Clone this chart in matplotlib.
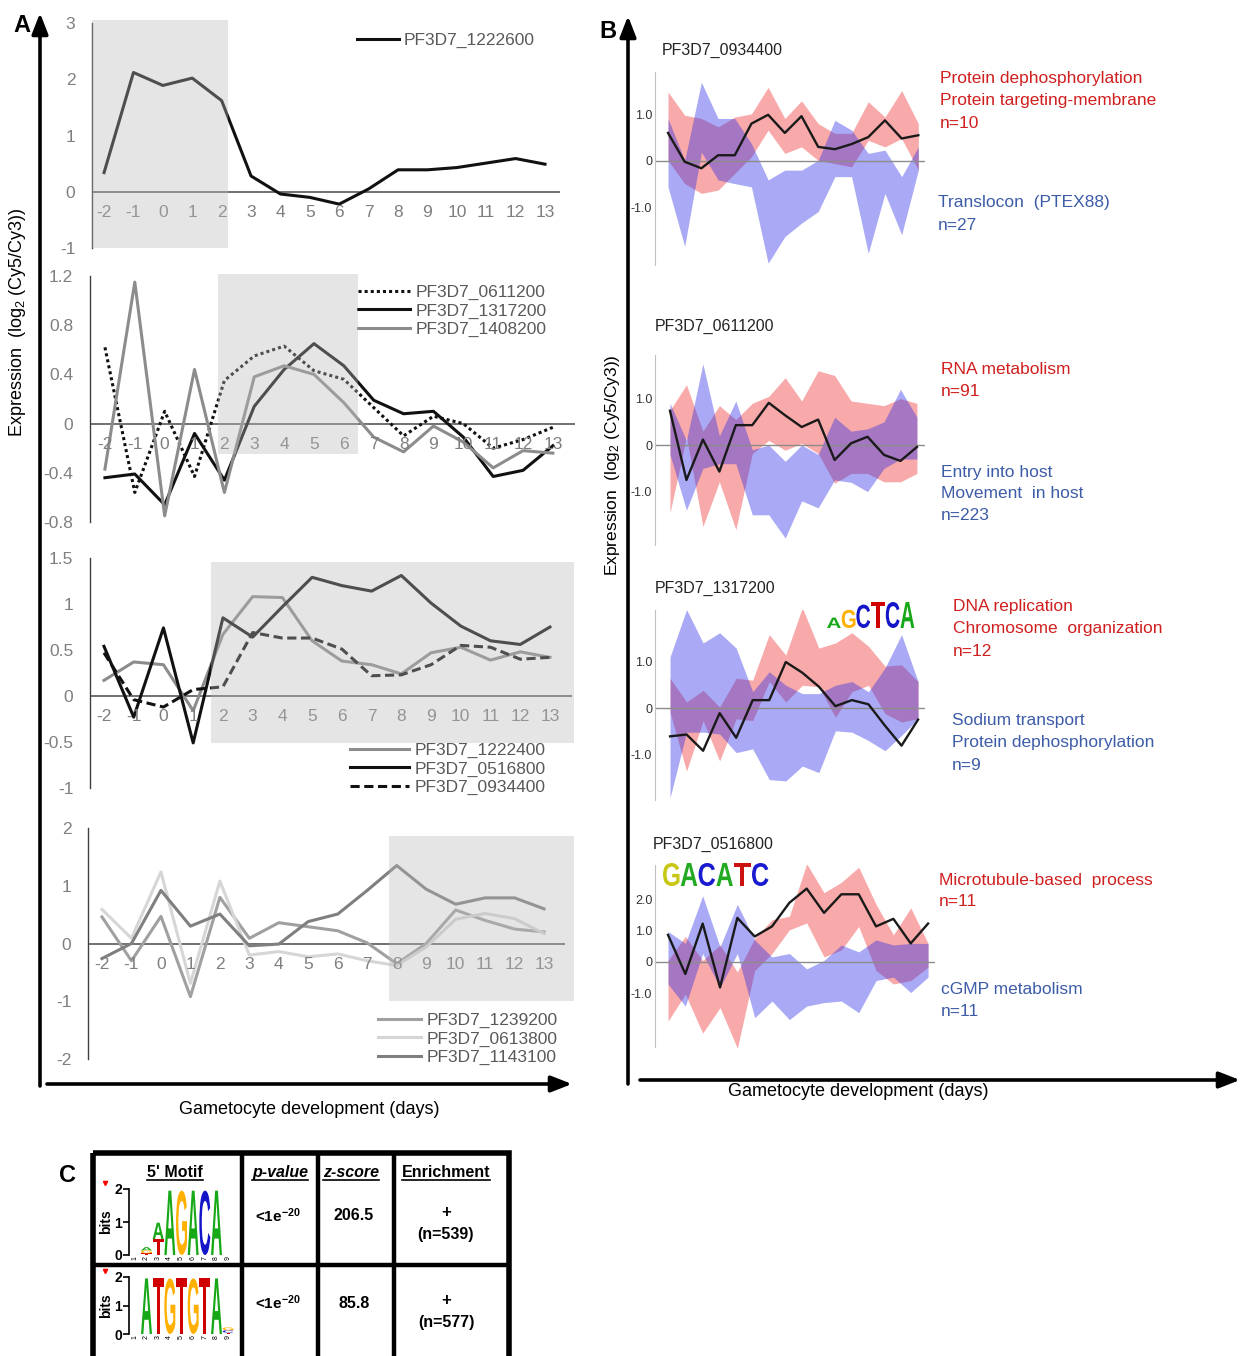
import numpy as np
import matplotlib
matplotlib.use('Agg')
import matplotlib.pyplot as plt
from matplotlib.patches import Rectangle, PathPatch
from matplotlib.textpath import TextPath
from matplotlib.font_manager import FontProperties
import matplotlib.transforms as mtransforms

plt.rcParams['font.family'] = ['Liberation Sans', 'DejaVu Sans']
plt.rcParams['mathtext.fontset'] = 'custom'
plt.rcParams['mathtext.rm'] = 'Liberation Sans'
plt.rcParams['mathtext.bf'] = 'Liberation Sans:bold'
plt.rcParams['mathtext.default'] = 'regular'

W, H = 1240, 1356

# ---- data ----
days = list(range(-2, 14))
day_labels = [str(d) for d in days]

# panel A
a1_1222600 = [0.34, 2.12, 1.89, 2.02, 1.62, 0.28, -0.04, -0.10, -0.22, 0.05, 0.39, 0.39, 0.43, 0.51, 0.59, 0.49]

a2_0611200 = [0.62, -0.56, 0.10, -0.43, 0.35, 0.55, 0.63, 0.43, 0.36, 0.13, -0.10, 0.06, 0.0, -0.20, -0.13, -0.03]
a2_1317200 = [-0.44, -0.41, -0.66, -0.08, -0.46, 0.14, 0.44, 0.65, 0.47, 0.19, 0.08, 0.10, -0.11, -0.43, -0.38, -0.18]
a2_1408200 = [-0.37, 1.15, -0.75, 0.44, -0.56, 0.38, 0.47, 0.40, 0.17, -0.11, -0.23, -0.02, -0.15, -0.36, -0.22, -0.24]

a3_1222400 = [0.17, 0.37, 0.34, -0.16, 0.67, 1.08, 1.07, 0.60, 0.38, 0.34, 0.24, 0.47, 0.53, 0.39, 0.48, 0.42]
a3_0516800 = [0.54, -0.23, 0.74, -0.51, 0.85, 0.64, 0.97, 1.29, 1.20, 1.14, 1.31, 1.01, 0.76, 0.60, 0.56, 0.75]
a3_0934400 = [0.47, -0.04, -0.12, 0.07, 0.10, 0.69, 0.63, 0.63, 0.51, 0.22, 0.23, 0.34, 0.55, 0.53, 0.40, 0.42]

a4_1239200 = [0.46, -0.30, 0.47, -0.92, 0.80, 0.09, 0.36, 0.29, 0.22, 0.01, -0.35, 0.0, 0.58, 0.40, 0.25, 0.20]
a4_0613800 = [0.59, 0.09, 1.24, -0.69, 1.08, -0.20, -0.14, -0.23, -0.18, -0.30, -0.38, -0.06, 0.42, 0.52, 0.43, 0.17]
a4_1143100 = [-0.26, 0.0, 0.92, 0.30, 0.51, -0.04, -0.01, 0.38, 0.51, 0.92, 1.35, 0.94, 0.68, 0.79, 0.79, 0.60]

# panel B (mean profile, red cluster band, blue cluster band)
b1_mean = [0.60, -0.02, -0.16, 0.12, 0.12, 0.80, 0.99, 0.60, 0.96, 0.30, 0.25, 0.36, 0.51, 0.87, 0.48, 0.55]
b1_red_hi = [1.48, 0.98, 0.91, 0.73, 0.94, 1.01, 1.58, 0.91, 1.29, 0.80, 0.59, 0.59, 1.27, 0.94, 1.51, 0.80]
b1_red_lo = [0.01, -0.49, -0.70, -0.63, -0.27, 0.09, 0.66, 0.16, 0.30, 0.01, -0.06, -0.13, 0.44, 0.30, 0.48, -0.20]
b1_blue_hi = [0.91, 0.01, 1.69, 0.91, 0.91, 0.37, -0.41, -0.20, -0.20, 0.01, 0.87, 0.66, 0.16, 0.23, -0.34, 0.30]
b1_blue_lo = [-0.56, -1.84, 0.19, -0.41, -0.49, -0.56, -2.20, -1.63, -1.34, -1.09, -0.34, -0.34, -1.99, -0.70, -1.59, -0.20]

b2_mean = [0.74, -0.75, 0.12, -0.57, 0.43, 0.43, 0.91, 0.64, 0.39, 0.55, -0.32, 0.04, 0.18, -0.21, -0.34, -0.04]
b2_red_hi = [0.75, 1.30, 0.30, 0.85, 0.55, 0.90, 1.05, 1.45, 0.95, 1.60, 1.50, 0.95, 0.90, 0.85, 1.00, 0.90]
b2_red_lo = [-1.46, 0.18, -1.75, -0.79, -1.82, -0.18, 0.10, -0.11, 0.04, -0.18, -0.82, -0.61, -0.61, -0.79, -0.79, -0.61]
b2_blue_hi = [0.90, 0.10, 1.75, 0.20, 0.95, -0.10, 0.00, -0.35, 0.00, -0.20, 0.60, 0.30, 0.35, 0.50, 1.20, 0.60]
b2_blue_lo = [-0.20, -1.40, -0.50, -0.40, -0.40, -1.50, -1.50, -2.00, -1.20, -1.35, -0.75, -0.80, -1.00, -0.50, -0.30, -0.30]

b3_mean = [-0.61, -0.57, -0.92, -0.11, -0.64, 0.17, 0.17, 0.99, 0.76, 0.46, 0.04, 0.17, 0.08, -0.38, -0.81, -0.25]
b3_red_hi = [0.64, 0.13, 0.38, 0.02, 0.64, 0.60, 1.58, 1.14, 2.16, 1.29, 1.40, 1.62, 1.33, 0.90, 0.93, 0.57]
b3_red_lo = [-0.09, -1.36, -0.27, -1.14, -0.23, -0.27, 0.57, 0.13, 0.49, 0.46, -0.20, 0.35, 0.49, -0.12, -0.30, -0.23]
b3_blue_hi = [1.10, 2.12, 1.40, 1.62, 1.29, 0.35, 0.78, 0.49, 0.31, 0.31, 0.49, 0.57, 0.35, 0.86, 1.58, 0.57]
b3_blue_lo = [-1.93, -0.52, -0.52, -0.56, -0.96, -0.88, -1.54, -1.57, -1.25, -1.39, -0.49, -0.52, -0.70, -0.92, -0.59, -0.23]

b4_mean = [0.86, -0.38, 1.22, -0.81, 1.40, 0.81, 1.13, 1.88, 2.33, 1.56, 2.15, 2.15, 1.13, 1.37, 0.59, 1.22]
b4_red_hi = [0.05, 0.81, 0.05, 0.54, -0.32, 0.75, 1.34, 1.45, 3.12, 2.20, 2.53, 3.01, 1.83, 0.86, 1.72, 0.59]
b4_red_lo = [-1.88, -1.02, -2.26, -1.45, -2.74, -0.27, 0.27, 1.02, 1.24, 0.16, 0.38, 1.13, -0.27, -0.70, -0.59, -0.16]
b4_blue_hi = [0.97, 0.59, 2.10, 0.48, 1.83, 0.70, 0.16, 0.27, -0.22, 0.05, 0.54, 0.32, 0.70, 0.54, 0.59, 0.59]
b4_blue_lo = [-0.70, -1.40, 0.27, -0.81, 0.27, -1.77, -1.24, -1.83, -1.40, -1.29, -1.24, -1.61, -0.59, -0.48, -0.97, -0.48]

b_titles = ['PF3D7_0934400', 'PF3D7_0611200', 'PF3D7_1317200', 'PF3D7_0516800']
b_red_text = [['Protein dephosphorylation', 'Protein targeting-membrane', 'n=10'],
              ['RNA metabolism', 'n=91'],
              ['DNA replication', 'Chromosome  organization', 'n=12'],
              ['Microtubule-based  process', 'n=11']]
b_blue_text = [['Translocon  (PTEX88)', 'n=27'],
               ['Entry into host', 'Movement  in host', 'n=223'],
               ['Sodium transport', 'Protein dephosphorylation', 'n=9'],
               ['cGMP metabolism', 'n=11']]

# panel C (sequence logos: position -> stacked letters with bits)
motif1 = {2: [('T', 0.05), ('G', 0.09), ('A', 0.1)], 3: [('T', 0.48), ('A', 0.5)],
          4: [('A', 1.95)], 5: [('G', 1.95)], 6: [('A', 1.95)], 7: [('C', 1.95)], 8: [('A', 1.95)]}
motif2 = {2: [('A', 1.95)], 3: [('T', 1.95)], 4: [('G', 1.95)], 5: [('T', 1.95)],
          6: [('G', 1.95)], 7: [('T', 1.95)], 8: [('A', 1.95)], 9: [('T', 0.05), ('C', 0.08), ('G', 0.1)]}
pvals = ['<1e$^{\\mathbf{-20}}$', '<1e$^{\\mathbf{-20}}$']
zscores = ['206.5', '85.8']
enrich_n = ['(n=539)', '(n=577)']

# ---- drawing ----
RED_TXT = '#d01f1f'
BLUE_TXT = '#3d5ca8'
RED_BAND = (240 / 255, 50 / 255, 50 / 255)
BLUE_BAND = (42 / 255, 42 / 255, 230 / 255)
LOGO_COL = {'A': '#17a817', 'C': '#1414c8', 'G': '#ffb000', 'T': '#d00000'}
LOGO_FP = FontProperties(family='Liberation Sans', weight='bold')

fig = plt.figure(figsize=(W / 100, H / 100), dpi=100)

# background axes in pixel coordinates for arrows, labels, table
bg = fig.add_axes([0, 0, 1, 1])
bg.set_xlim(0, W)
bg.set_ylim(H, 0)
bg.axis('off')


def px_axes(x0, y0, x1, y1):
    return fig.add_axes([x0 / W, 1 - y1 / H, (x1 - x0) / W, (y1 - y0) / H])


def draw_letter(ax, ch, x, y, w, h, color):
    tp = TextPath((0, 0), ch, size=1, prop=LOGO_FP)
    bb = tp.get_extents()
    tr = (mtransforms.Affine2D().translate(-bb.x0, -bb.y0)
          .scale(w / bb.width, h / bb.height).translate(x, y))
    ax.add_patch(PathPatch(tr.transform_path(tp), fc=color, ec='none', lw=0))


def style_a(ax, xlim, ylim, yticks, ylabels):
    ax.set_xlim(*xlim)
    ax.set_ylim(*ylim)
    for s in ['top', 'right', 'bottom']:
        ax.spines[s].set_visible(False)
    ax.spines['left'].set_color('#404040')
    ax.spines['left'].set_linewidth(1)
    ax.set_xticks([])
    ax.set_yticks(yticks, ylabels)
    ax.tick_params(axis='y', length=0, pad=12, labelsize=12.5, labelcolor='#7f7f7f')
    ax.axhline(0, color='#595959', lw=1.2, zorder=1)
    for d, lab in zip(days, day_labels):
        ax.annotate(lab, (d, 0), xytext=(0, -15), textcoords='offset points',
                    ha='center', va='center', fontsize=12.5, color='#7f7f7f')
    ax.patch.set_visible(False)


def shade(ax, x0, x1, y0, y1):
    ax.add_patch(Rectangle((x0, y0), x1 - x0, y1 - y0, fc=(0.73, 0.73, 0.73), alpha=0.365,
                           lw=0, zorder=10, clip_on=False))


def a_legend(ax, x, y, hl):
    leg = ax.legend(loc='upper left', bbox_to_anchor=(x / W, 1 - y / H), bbox_transform=fig.transFigure,
                    frameon=False, fontsize=12.5, handlelength=hl, handletextpad=0.3,
                    labelspacing=0.17, borderpad=0, borderaxespad=0)
    for t in leg.get_texts():
        t.set_color('#595959')


# A1
ax = px_axes(92, 23, 560, 248)
style_a(ax, (-2.41, 13.51), (-1, 3), [3, 2, 1, 0, -1], ['3', '2', '1', '0', '-1'])
ax.plot(days, a1_1222600, color='#111111', lw=2.2, label='PF3D7_1222600')
shade(ax, -2.4, 2.22, -1, 3.05)
a_legend(ax, 357, 33, 2.4)

# A2
ax = px_axes(90, 276, 575, 522)
style_a(ax, (-2.5, 13.74), (-0.8, 1.2), [1.2, 0.8, 0.4, 0, -0.4, -0.8],
        ['1.2', '0.8', '0.4', '0', '-0.4', '-0.8'])
ax.plot(days, a2_0611200, color='#111111', lw=2.2, ls=(0, (1, 1)), label='PF3D7_0611200')
ax.plot(days, a2_1317200, color='#111111', lw=2.2, label='PF3D7_1317200')
ax.plot(days, a2_1408200, color='#8c8c8c', lw=2.2, label='PF3D7_1408200')
shade(ax, 1.78, 6.46, -0.25, 1.22)
a_legend(ax, 358, 285, 3.0)

# A3
ax = px_axes(90, 558, 572, 788)
style_a(ax, (-2.47, 13.74), (-1, 1.5), [1.5, 1, 0.5, 0, -0.5, -1],
        ['1.5', '1', '0.5', '0', '-0.5', '-1'])
ax.plot(days, a3_1222400, color='#8c8c8c', lw=2.2, label='PF3D7_1222400')
ax.plot(days, a3_0516800, color='#111111', lw=2.2, label='PF3D7_0516800')
ax.plot(days, a3_0934400, color='#111111', lw=2.2, ls=(0, (3, 1.5)), label='PF3D7_0934400')
shade(ax, 1.6, 13.8, -0.51, 1.46)
a_legend(ax, 350, 743, 3.4)

# A4
ax = px_axes(88, 828, 565, 1059)
style_a(ax, (-2.475, 13.71), (-2, 2), [2, 1, 0, -1, -2], ['2', '1', '0', '-1', '-2'])
ax.plot(days, a4_1239200, color='#a0a0a0', lw=2.2, label='PF3D7_1239200')
ax.plot(days, a4_0613800, color='#d6d6d6', lw=2.2, label='PF3D7_0613800')
ax.plot(days, a4_1143100, color='#7f7f7f', lw=2.2, label='PF3D7_1143100')
shade(ax, 7.73, 14.0, -1.0, 1.86)
a_legend(ax, 378, 1013, 2.5)

# panel A frame
arrow = dict(arrowstyle='-|>,head_length=0.9,head_width=0.35', lw=2.6, color='black',
             shrinkA=0, shrinkB=0, mutation_scale=14)
bg.annotate('', xy=(40, 13), xytext=(40, 1086), arrowprops=arrow)
bg.annotate('', xy=(572, 1084), xytext=(47, 1084), arrowprops=arrow)
bg.text(22, 25, 'A', fontsize=17, fontweight='bold', ha='center', va='center')
bg.text(18, 322, 'Expression  (log$_2$ (Cy5/Cy3))', rotation=90, ha='center', va='center', fontsize=13)
bg.text(309, 1110, 'Gametocyte development (days)', ha='center', va='center', fontsize=13)

# panel B
b_boxes = [(655, 72, 925, 265), (655, 355, 925, 545), (655, 610, 925, 800), (655, 865, 935, 1047)]
b_xlims = [(-0.78, 15.4), (-0.91, 15.49), (-0.91, 15.42), (-0.75, 15.4)]
b_ylims = [(-2.24, 1.91), (-2.15, 1.94), (-1.98, 2.11), (-2.7, 3.08)]
b_series = [(b1_mean, b1_red_hi, b1_red_lo, b1_blue_hi, b1_blue_lo),
            (b2_mean, b2_red_hi, b2_red_lo, b2_blue_hi, b2_blue_lo),
            (b3_mean, b3_red_hi, b3_red_lo, b3_blue_hi, b3_blue_lo),
            (b4_mean, b4_red_hi, b4_red_lo, b4_blue_hi, b4_blue_lo)]
b_title_xy = [(662, 50), (655, 326), (655, 588), (653, 844)]
b_red_xy = [(940, 79), (941, 370), (953, 607), (939, 880)]
b_blue_xy = [(938, 203), (941, 472), (952, 721), (941, 990)]

for i in range(4):
    ax = px_axes(*b_boxes[i])
    mean, rhi, rlo, bhi, blo = b_series[i]
    x = np.arange(len(mean))
    ax.fill_between(x, rlo, rhi, color=RED_BAND, alpha=0.42, lw=0)
    ax.fill_between(x, blo, bhi, color=BLUE_BAND, alpha=0.4, lw=0)
    ax.plot(x, mean, color='#1a1a1a', lw=1.7, zorder=4)
    ax.axhline(0, color='#8c8c8c', lw=1)
    ax.set_xlim(*b_xlims[i])
    ax.set_ylim(*b_ylims[i])
    for s in ['top', 'right', 'bottom']:
        ax.spines[s].set_visible(False)
    ax.spines['left'].set_color('#c0c0c0')
    ax.set_xticks([])
    if i == 3:
        ax.set_yticks([2, 1, 0, -1], ['2.0', '1.0', '0', '-1.0'])
    else:
        ax.set_yticks([1, 0, -1], ['1.0', '0', '-1.0'])
    ax.tick_params(axis='y', length=0, pad=2, labelsize=9, labelcolor='#333333')
    ax.patch.set_visible(False)
    bg.text(*b_title_xy[i], b_titles[i], fontsize=11.5, color='#222222', ha='left', va='center')
    for k, t in enumerate(b_red_text[i]):
        bg.text(b_red_xy[i][0], b_red_xy[i][1] + 22 * k, t, color=RED_TXT, fontsize=12.5, va='center')
    for k, t in enumerate(b_blue_text[i]):
        bg.text(b_blue_xy[i][0], b_blue_xy[i][1] + 22 * k, t, color=BLUE_TXT, fontsize=12.5, va='center')

# small motifs in panel B
for k, (ch, h) in enumerate(zip('AGCTCA', [0.4, 0.7, 0.9, 1.0, 1.0, 1.0])):
    col = LOGO_COL[ch]
    draw_letter(bg, ch, 827 + 14.7 * k, 628, 13.8, -26 * h, col)
gacatc_cols = ['#c8c814', '#22aa22', '#1a1ad0', '#22aa22', '#cc1111', '#1a1ad0']
for k, ch in enumerate('GACATC'):
    draw_letter(bg, ch, 663 + 17.8 * k, 886, 16.5, -23, gacatc_cols[k])

bg.annotate('', xy=(628, 16), xytext=(628, 1084), arrowprops=arrow)
bg.annotate('', xy=(1240, 1080), xytext=(640, 1080), arrowprops=arrow)
bg.text(608, 32, 'B', fontsize=17, fontweight='bold', ha='center', va='center')
bg.text(612, 465, 'Expression  (log$_2$ (Cy5/Cy3))', rotation=90, ha='center', va='center', fontsize=12.5)
bg.text(858, 1091, 'Gametocyte development (days)', ha='center', va='center', fontsize=13)

# panel C table
bg.text(68, 1175, 'C', fontsize=17, fontweight='bold', ha='center', va='center')
bg.add_patch(Rectangle((93, 1153), 416, 205, fill=False, ec='black', lw=4, clip_on=False))
for xv in [242, 318, 394]:
    bg.plot([xv, xv], [1153, 1358], color='black', lw=3.2, solid_capstyle='butt')
bg.plot([93, 509], [1265, 1265], color='black', lw=3.2, solid_capstyle='butt')

headers = [("5' Motif", 175, 'normal'), ('p-value', 280, 'italic'), ('z-score', 351, 'italic'),
           ('Enrichment', 446, 'normal')]
head_txt = []
for t, xc, st in headers:
    head_txt.append(bg.text(xc, 1177, t, fontsize=11.5, fontweight='bold', style=st,
                            ha='center', va='baseline'))
row_y = [1216, 1303]
for r in range(2):
    bg.text(278, row_y[r], pvals[r], fontsize=11, fontweight='bold', ha='center', va='center')
    bg.text(354, row_y[r], zscores[r], fontsize=11.5, fontweight='bold', ha='center', va='center')
    bg.text(446, row_y[r] - 3, '+', fontsize=12, fontweight='bold', ha='center', va='center')
    bg.text(446, row_y[r] + 19, enrich_n[r], fontsize=11.5, fontweight='bold', ha='center', va='center')

fig.canvas.draw()
rend = fig.canvas.get_renderer()
for t in head_txt:
    bb = t.get_window_extent(rend).transformed(bg.transData.inverted())
    bg.plot([bb.x0, bb.x1], [1180, 1180], color='black', lw=1.2)

# sequence logos
for motif, (top, bot) in zip([motif1, motif2], [(1189, 1255), (1277, 1334)]):
    lax = px_axes(129, top, 234, bot)
    lax.set_xlim(0.5, 9.5)
    lax.set_ylim(0, 2)
    for pos, stack in motif.items():
        base = 0
        for ch, h in stack:
            draw_letter(lax, ch, pos - 0.47, base, 0.94, h, LOGO_COL[ch])
            base += h
    for s in ['top', 'right', 'bottom']:
        lax.spines[s].set_visible(False)
    lax.spines['left'].set_linewidth(1.2)
    lax.set_yticks([0, 1, 2], ['0', '1', '2'])
    lax.tick_params(axis='y', length=4, width=1.2, pad=1, labelsize=10)
    for lab in lax.get_yticklabels():
        lab.set_fontweight('bold')
    lax.set_xticks(range(1, 10), [str(p) for p in range(1, 10)], rotation=90)
    lax.tick_params(axis='x', length=0, pad=1, labelsize=5)
    lax.set_ylabel('bits', fontsize=10, fontweight='bold', labelpad=1)
    lax.patch.set_visible(False)
    bg.plot(105, top - 6, marker='v', color='red', ms=3)

fig.savefig('out.png', dpi=100)
